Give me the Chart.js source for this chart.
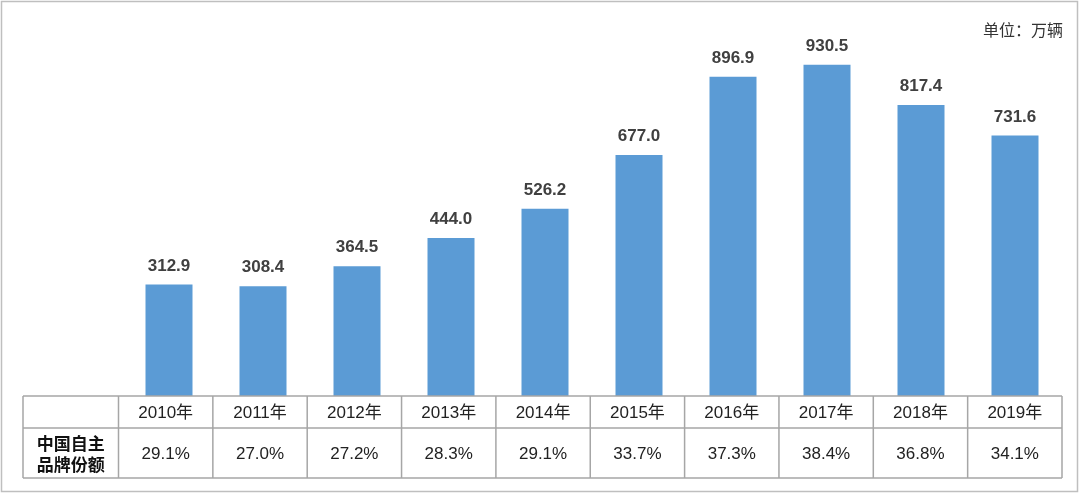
<!DOCTYPE html>
<html lang="zh-CN">
<head>
    <meta charset="UTF-8">
    <title>中国自主品牌销量</title>
    <script src="https://cdn.jsdelivr.net/npm/chart.js"></script>
    <style>
        body {
            margin: 0;
            background: #fff;
        }
        #wrap {
            width: 1080px;
            height: 495px;
        }
    </style>
</head>
<body>
    <div id="wrap">
        <canvas id="myChart" width="1080" height="495"></canvas>
    </div>

    <script>
        const anos = ['2010年', '2011年', '2012年', '2013年', '2014年', '2015年', '2016年', '2017年', '2018年', '2019年'];
        const vendas = [312.9, 308.4, 364.5, 444.0, 526.2, 677.0, 896.9, 930.5, 817.4, 731.6];
        const participacao = ['29.1%', '27.0%', '27.2%', '28.3%', '29.1%', '33.7%', '37.3%', '38.4%', '36.8%', '34.1%'];
        const rotuloLinha = ['中国自主', '品牌份额'];
        const unidade = '单位：万辆';

        const fonte = "Arial, 'Liberation Sans', 'Noto Sans CJK SC', sans-serif";

        // rótulos em cima das barras, tabela embaixo e moldura
        const extras = {
            id: 'extras',
            afterDatasetsDraw(chart) {
                const ctx = chart.ctx;
                const area = chart.chartArea;
                const meta = chart.getDatasetMeta(0);

                ctx.save();
                ctx.fillStyle = '#404040';
                ctx.font = 'bold 17px ' + fonte;
                ctx.textAlign = 'center';
                ctx.textBaseline = 'bottom';
                meta.data.forEach((bar, i) => {
                    ctx.fillText(vendas[i].toFixed(1), bar.x, bar.y - 10);
                });

                // tabela (começa um pouco antes da área das barras)
                const cLeft = 118.5;
                const colW = (area.right - cLeft) / anos.length;
                const tLeft = 23;
                const y0 = area.bottom, y1 = area.bottom + 32, y2 = area.bottom + 82;
                ctx.strokeStyle = '#a6a6a6';
                ctx.lineWidth = 1.5;
                ctx.beginPath();
                [y0, y1, y2].forEach(y => {
                    ctx.moveTo(tLeft, y);
                    ctx.lineTo(area.right, y);
                });
                ctx.moveTo(tLeft, y0);
                ctx.lineTo(tLeft, y2);
                for (let i = 0; i <= anos.length; i++) {
                    const xx = cLeft + i * colW;
                    ctx.moveTo(xx, y0);
                    ctx.lineTo(xx, y2);
                }
                ctx.stroke();

                ctx.fillStyle = '#222';
                ctx.font = '17px ' + fonte;
                ctx.textBaseline = 'middle';
                anos.forEach((a, i) => {
                    const cx = cLeft + (i + 0.5) * colW;
                    ctx.fillText(a, cx, (y0 + y1) / 2 + 1);
                    ctx.fillText(participacao[i], cx, (y1 + y2) / 2 + 1);
                });

                ctx.font = 'bold 17px ' + fonte;
                ctx.fillStyle = '#111';
                const lx = (tLeft + cLeft) / 2;
                ctx.fillText(rotuloLinha[0], lx, 445);
                ctx.fillText(rotuloLinha[1], lx, 466);

                // unidade
                ctx.font = '16px ' + fonte;
                ctx.fillStyle = '#333';
                ctx.textAlign = 'right';
                ctx.fillText(unidade, 1063, 32);

                // moldura
                ctx.strokeStyle = '#bfbfbf';
                ctx.lineWidth = 1.5;
                ctx.strokeRect(1.5, 1.5, 1076, 490);
                ctx.restore();
            }
        };

        new Chart(document.getElementById('myChart'), {
            type: 'bar',
            data: {
                labels: anos,
                datasets: [{
                    label: '销量',
                    data: vendas,
                    backgroundColor: '#5b9bd5',
                    borderWidth: 0,
                    categoryPercentage: 0.5,
                    barPercentage: 1
                }]
            },
            options: {
                responsive: false,
                animation: false,
                layout: {
                    padding: { left: 122, right: 18, top: 40, bottom: 99 }
                },
                plugins: {
                    legend: { display: false },
                    tooltip: { enabled: false }
                },
                scales: {
                    x: { display: false },
                    y: { display: false, min: 0, max: 1000 }
                }
            },
            plugins: [extras]
        });
    </script>
</body>
</html>
